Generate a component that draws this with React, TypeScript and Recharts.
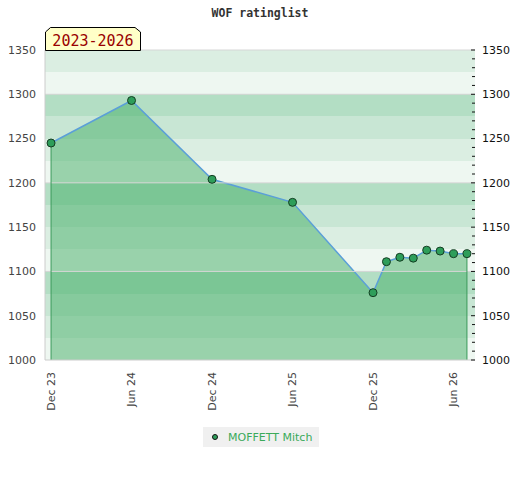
import { ComposedChart, Area, XAxis, YAxis, CartesianGrid, ReferenceLine } from 'recharts';

// months counted from Dec 2023
const months = [0, 6, 12, 18, 24, 25, 26, 27, 28, 29, 30, 31];
const ratings = [1245, 1293, 1204, 1178, 1076, 1111, 1116, 1115, 1124, 1123, 1120, 1120];

const tickMonths = [0, 6, 12, 18, 24, 30];
const tickLabels = ['Dec 23', 'Jun 24', 'Dec 24', 'Jun 25', 'Dec 25', 'Jun 26'];

const playerName = 'MOFFETT Mitch';
const periodLabel = '2023-2026';
const chartTitle = 'WOF ratinglist';

const yMin = 1000;
const yMax = 1350;
const bandTicks = Array.from({ length: (yMax - yMin) / 25 + 1 }, (_, i) => yMin + i * 25);
const rightTicks = Array.from({ length: (yMax - yMin) / 10 + 1 }, (_, i) => yMin + i * 10);
const hundredLines = [1100, 1200, 1300, 1350];

const data = months.map((m, i) => ({ month: m, rating: ratings[i] }));
const first = data[0];
const last = data[data.length - 1];

const bandFill = ['#dbeee2', '#eef7f1', '#b3dec4', '#c8e6d4'];
const axisFont = 'DejaVu Sans, sans-serif';

const Dot = (props: any) => {
    const { cx, cy } = props;
    if (cx == null || cy == null) return null;
    return <circle cx={cx} cy={cy} r={4} fill="#2e9e5a" stroke="#143d22" strokeWidth={1} />;
};

const XTick = (props: any) => {
    const { x, y, payload } = props;
    const idx = tickMonths.indexOf(payload.value);
    return (
        <text
            transform={`translate(${x},${y + 12}) rotate(-90)`}
            textAnchor="end"
            dy="0.35em"
            fontSize={11}
            fontFamily={axisFont}
            fill="#444"
        >
            {idx >= 0 ? tickLabels[idx] : ''}
        </text>
    );
};

const RightTick = (props: any) => {
    const { x, y, payload } = props;
    const major = payload.value % 50 === 0;
    const edge = x - 7;
    return (
        <g>
            <line x1={edge - (major ? 4 : 3)} x2={edge} y1={y} y2={y} stroke="#111" strokeWidth={1} />
            {major && (
                <text x={x} y={y} dy="0.35em" textAnchor="start" fontSize={11} fontFamily={axisFont} fill="#111">
                    {payload.value}
                </text>
            )}
        </g>
    );
};

export default function App() {
    return (
        <div style={{ position: 'relative', width: 520, height: 480, background: '#fff' }}>
            <style>{'body{margin:0}'}</style>
            <div
                style={{
                    position: 'absolute',
                    top: 6,
                    left: 0,
                    width: 520,
                    textAlign: 'center',
                    fontFamily: 'DejaVu Sans Mono, monospace',
                    fontWeight: 'bold',
                    fontSize: 11.5,
                    color: '#333',
                }}
            >
                {chartTitle}
            </div>
            <ComposedChart width={520} height={480} data={data} margin={{ top: 50, right: 0, bottom: 0, left: 0 }}>
                <CartesianGrid
                    yAxisId="left"
                    vertical={false}
                    stroke="transparent"
                    horizontalFill={bandFill}
                    fillOpacity={1}
                />
                {hundredLines.map((v) => (
                    <ReferenceLine key={v} yAxisId="left" y={v} stroke="#d6d6d6" strokeWidth={1} />
                ))}
                <XAxis
                    dataKey="month"
                    type="number"
                    domain={[-0.45, 31.6]}
                    ticks={tickMonths}
                    tick={<XTick />}
                    tickLine={false}
                    tickSize={0}
                    tickMargin={0}
                    height={120}
                    axisLine={{ stroke: '#ccc' }}
                    allowDataOverflow
                />
                <YAxis
                    yAxisId="left"
                    domain={[yMin, yMax]}
                    ticks={bandTicks}
                    interval={0}
                    tickFormatter={(v: number) => (v % 50 === 0 ? String(v) : '')}
                    width={45}
                    tickSize={0}
                    tickMargin={9}
                    tickLine={false}
                    axisLine={{ stroke: '#ccc' }}
                    tick={{ fill: '#444', fontSize: 11, fontFamily: axisFont }}
                    allowDataOverflow
                />
                <YAxis
                    yAxisId="right"
                    orientation="right"
                    domain={[yMin, yMax]}
                    ticks={rightTicks}
                    interval={0}
                    width={45}
                    tickSize={0}
                    tickMargin={7}
                    tickLine={false}
                    axisLine={false}
                    tick={<RightTick />}
                    allowDataOverflow
                />
                <Area
                    yAxisId="left"
                    type="linear"
                    dataKey="rating"
                    stroke="#5b9fd8"
                    strokeWidth={1.5}
                    fill="#44ae66"
                    fillOpacity={0.5}
                    baseValue={yMin}
                    dot={<Dot />}
                    activeDot={false}
                    isAnimationActive={false}
                />
                <ReferenceLine
                    yAxisId="left"
                    segment={[{ x: first.month, y: yMin }, { x: first.month, y: first.rating }]}
                    stroke="#3a9a5a"
                />
                <ReferenceLine
                    yAxisId="left"
                    segment={[{ x: last.month, y: yMin }, { x: last.month, y: last.rating }]}
                    stroke="#3a9a5a"
                />
            </ComposedChart>
            <svg style={{ position: 'absolute', left: 0, top: 0, pointerEvents: 'none' }} width={520} height={480}>
                <polygon
                    points="45.5,50.5 45.5,32 50.5,27.5 135,27.5 140.5,32 140.5,50.5"
                    fill="#ffffc8"
                    stroke="#000"
                    strokeWidth={1}
                />
                <text x={93} y={45.5} textAnchor="middle" fontSize={15} fontFamily="DejaVu Sans Mono, monospace" fill="#990000">
                    {periodLabel}
                </text>
            </svg>
            <div
                style={{
                    position: 'absolute',
                    left: 203,
                    top: 427,
                    width: 116,
                    height: 20,
                    background: '#f0f0f0',
                    display: 'flex',
                    alignItems: 'center',
                    fontFamily: axisFont,
                    fontSize: 11,
                    color: '#3aaa5a',
                }}
            >
                <span
                    style={{
                        display: 'inline-block',
                        width: 6,
                        height: 6,
                        borderRadius: '50%',
                        background: '#2e9e5a',
                        border: '1px solid #111',
                        marginLeft: 9,
                        marginRight: 10,
                        boxSizing: 'border-box',
                    }}
                />
                {playerName}
            </div>
        </div>
    );
}
